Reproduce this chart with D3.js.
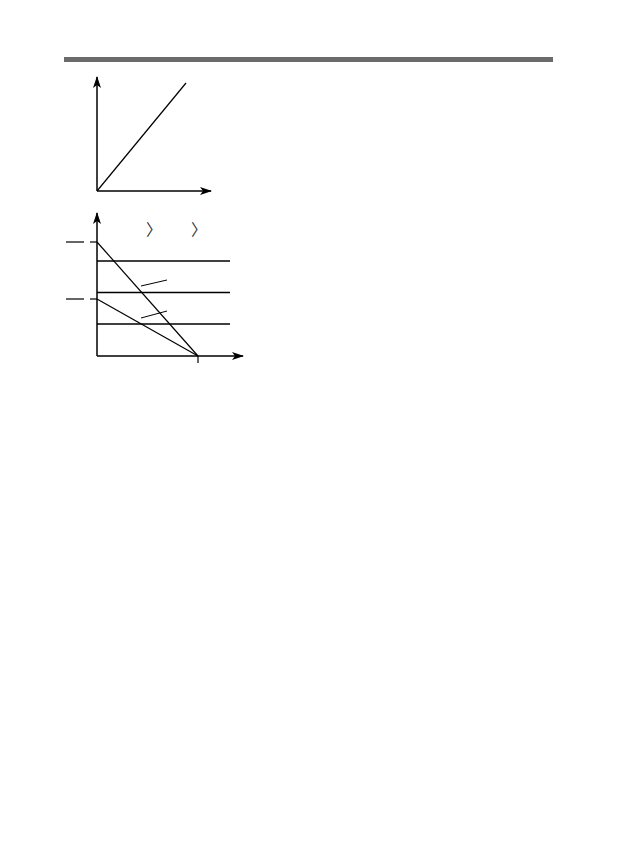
<!DOCTYPE html>
<html>
<head>
<meta charset="utf-8">
<script src="https://cdn.jsdelivr.net/npm/d3@7"></script>
<style>
  body { margin: 0; background: #fff; }
  svg { display: block; }
</style>
</head>
<body>
<svg id="mainSvg" width="617" height="850"></svg>
<script>
// top panel: one straight line from the origin
let topAxisMax = [114, 114];
let topLine = [[0, 0], [89, 108]];

// bottom panel: three flat levels, two falling lines meeting on the x axis
let levels = [95, 63.5, 32];
let levelEnd = 133;
let intercepts = [114, 57];
let meetX = 101;
let leaders = [[[44, 70], [70, 76]], [[44, 38], [70, 45]]];
let arrowMarks = [53, 98];
let bottomAxisMax = [146, 143];

let svg = d3.select('#mainSvg');

svg.append('rect')
  .attr('x', 64).attr('y', 57)
  .attr('width', 489).attr('height', 5)
  .attr('fill', '#6b6b6b');

svg.append('defs').append('marker')
  .attr('id', 'arr')
  .attr('viewBox', '0 0 12 8')
  .attr('refX', 11).attr('refY', 4)
  .attr('markerWidth', 12).attr('markerHeight', 8)
  .attr('markerUnits', 'userSpaceOnUse')
  .attr('orient', 'auto')
  .append('path')
  .attr('d', 'M0,0 L12,4 L0,8 L3,4 Z')
  .attr('fill', '#000');

// top panel
let x1 = d3.scaleLinear().domain([0, topAxisMax[0]]).range([97, 211]);
let y1 = d3.scaleLinear().domain([0, topAxisMax[1]]).range([191, 77]);
let g1 = svg.append('g');

g1.append('line')
  .attr('x1', x1(0)).attr('y1', y1(0))
  .attr('x2', x1(topAxisMax[0])).attr('y2', y1(0))
  .attr('stroke', '#000').attr('stroke-width', 1.5)
  .attr('marker-end', 'url(#arr)');
g1.append('line')
  .attr('x1', x1(0)).attr('y1', y1(0))
  .attr('x2', x1(0)).attr('y2', y1(topAxisMax[1]))
  .attr('stroke', '#000').attr('stroke-width', 1.5)
  .attr('marker-end', 'url(#arr)');
g1.append('path')
  .attr('d', d3.line().x(d => x1(d[0])).y(d => y1(d[1]))(topLine))
  .attr('fill', 'none').attr('stroke', '#000').attr('stroke-width', 1.2);

// bottom panel
let x2 = d3.scaleLinear().domain([0, bottomAxisMax[0]]).range([97, 243]);
let y2 = d3.scaleLinear().domain([0, bottomAxisMax[1]]).range([356, 213]);
let g2 = svg.append('g');

g2.selectAll('.level').data(levels).enter().append('line')
  .attr('class', 'level')
  .attr('x1', x2(0)).attr('x2', x2(levelEnd))
  .attr('y1', d => y2(d)).attr('y2', d => y2(d))
  .attr('stroke', '#000').attr('stroke-width', 1.3);

g2.selectAll('.fall').data(intercepts).enter().append('line')
  .attr('class', 'fall')
  .attr('x1', x2(0)).attr('y1', d => y2(d))
  .attr('x2', x2(meetX)).attr('y2', y2(0))
  .attr('stroke', '#000').attr('stroke-width', 1.2);

// dashes left of the y axis at each intercept
g2.selectAll('.dashA').data(intercepts).enter().append('line')
  .attr('x1', 66).attr('x2', 84)
  .attr('y1', d => y2(d)).attr('y2', d => y2(d))
  .attr('stroke', '#000').attr('stroke-width', 1.2);
g2.selectAll('.dashB').data(intercepts).enter().append('line')
  .attr('x1', 90).attr('x2', x2(0))
  .attr('y1', d => y2(d)).attr('y2', d => y2(d))
  .attr('stroke', '#000').attr('stroke-width', 1.2);

g2.selectAll('.leader').data(leaders).enter().append('line')
  .attr('x1', d => x2(d[0][0])).attr('y1', d => y2(d[0][1]))
  .attr('x2', d => x2(d[1][0])).attr('y2', d => y2(d[1][1]))
  .attr('stroke', '#000').attr('stroke-width', 1);

g2.selectAll('.gt').data(arrowMarks).enter().append('text')
  .attr('x', d => x2(d)).attr('y', 235)
  .attr('text-anchor', 'middle')
  .attr('font-family', 'Noto Sans CJK SC, sans-serif')
  .attr('font-size', 16)
  .attr('fill', '#333')
  .attr('dx', 4)
  .text('〉');

// axes
g2.append('line')
  .attr('x1', x2(0)).attr('y1', y2(0))
  .attr('x2', x2(bottomAxisMax[0])).attr('y2', y2(0))
  .attr('stroke', '#000').attr('stroke-width', 1.5)
  .attr('marker-end', 'url(#arr)');
g2.append('line')
  .attr('x1', x2(0)).attr('y1', y2(0))
  .attr('x2', x2(0)).attr('y2', y2(bottomAxisMax[1]))
  .attr('stroke', '#000').attr('stroke-width', 1.5)
  .attr('marker-end', 'url(#arr)');
g2.append('line')
  .attr('x1', x2(meetX)).attr('x2', x2(meetX))
  .attr('y1', y2(0)).attr('y2', y2(0) + 7)
  .attr('stroke', '#000').attr('stroke-width', 1.2);
</script>
</body>
</html>
